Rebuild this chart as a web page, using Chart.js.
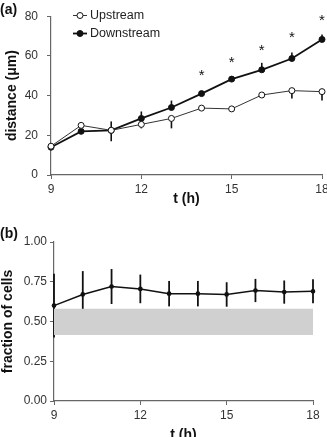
<!DOCTYPE html>
<html>
<head>
<meta charset="utf-8">
<script src="https://cdn.jsdelivr.net/npm/chart.js@4.4.0/dist/chart.umd.min.js"></script>
<style>
body{margin:0;background:#fff;width:327px;height:437px;overflow:hidden;position:relative;font-family:"Liberation Sans",Arial,sans-serif}
#wa{position:absolute;left:0;top:0;width:327px;height:210px}
#wb{position:absolute;left:0;top:210px;width:327px;height:227px;overflow:hidden}
.lab{position:absolute;font-weight:bold;font-size:14px;color:#111}
</style>
</head>
<body>
<div id="wa"><canvas id="chart-a" width="327" height="210"></canvas></div>
<div id="wb"><canvas id="chart-b" width="327" height="236"></canvas></div>
<div class="lab" style="left:0;top:1px">(a)</div>
<div class="lab" style="left:0;top:225px">(b)</div>
<script>
var hours = [9, 10, 11, 12, 13, 14, 15, 16, 17, 18];
var upstream = [14.5, 25, 22.5, 25.5, 28.5, 33.7, 33.3, 40.3, 42.5, 42];
var upstreamErr = [1, 1, 5.5, 2, 5, 1, 1.5, 1, 4, 4.5];
var downstream = [14, 22, 22.5, 28.5, 34, 41, 48.3, 53, 58.7, 68.3];
var downstreamErr = [1, 1, 4.5, 3.5, 3.5, 1, 1, 3.5, 3, 2.5];
var starHours = [14, 15, 16, 17, 18];
var starLevel = [52, 58.5, 64.7, 71, 79.5];
var fraction = [0.60, 0.67, 0.72, 0.705, 0.675, 0.675, 0.67, 0.695, 0.685, 0.69];
var fractionErr = [0.2, 0.147, 0.11, 0.09, 0.08, 0.08, 0.077, 0.073, 0.073, 0.075];
var bandHours = [9, 18];
var bandLow = [0.415, 0.415];
var bandHigh = [0.58, 0.58];

function pts(xs, ys) {
    return xs.map(function(x, i) { return {x: x, y: ys[i]}; });
}

// vertical error bars, drawn under the markers
var errorBarPlugin = {
    id: 'errorBars',
    beforeDatasetsDraw: function(chart, args, opts) {
        var ctx = chart.ctx, xs = chart.scales.x, ys = chart.scales.y;
        ctx.save();
        ctx.strokeStyle = '#111';
        ctx.lineWidth = opts.width;
        opts.bars.forEach(function(b) {
            b.values.forEach(function(v, i) {
                var px = xs.getPixelForValue(hours[i]);
                ctx.beginPath();
                ctx.moveTo(px, ys.getPixelForValue(v - (b.down ? b.err[i] : 0)));
                ctx.lineTo(px, ys.getPixelForValue(v + (b.up ? b.err[i] : 0)));
                ctx.stroke();
            });
        });
        ctx.restore();
    }
};

// asterisks and the little legend in panel (a)
var extrasPlugin = {
    id: 'extras',
    afterDraw: function(chart) {
        var ctx = chart.ctx, xs = chart.scales.x, ys = chart.scales.y;
        ctx.save();
        ctx.fillStyle = '#111';
        ctx.font = '15px "Liberation Sans", Arial, sans-serif';
        ctx.textAlign = 'center';
        ctx.textBaseline = 'alphabetic';
        starHours.forEach(function(h, i) {
            ctx.fillText('*', xs.getPixelForValue(h), ys.getPixelForValue(starLevel[i]) + 8);
        });
        var items = chart.data.datasets;
        ctx.font = '12.5px "Liberation Sans", Arial, sans-serif';
        ctx.textAlign = 'left';
        ctx.textBaseline = 'middle';
        [15.5, 33.5].forEach(function(y, i) {
            var d = items[i];
            ctx.strokeStyle = d.borderColor;
            ctx.lineWidth = d.borderWidth;
            ctx.beginPath();
            ctx.moveTo(73, y);
            ctx.lineTo(87, y);
            ctx.stroke();
            ctx.beginPath();
            ctx.arc(80, y, 3, 0, Math.PI * 2);
            ctx.fillStyle = d.pointBackgroundColor;
            ctx.fill();
            ctx.lineWidth = 1;
            ctx.strokeStyle = '#111';
            ctx.stroke();
            ctx.fillStyle = '#222';
            ctx.fillText(d.label, 90, y + 0.5);
        });
        ctx.restore();
    }
};

var tickFont = {family: '"Liberation Sans", Arial, sans-serif', size: 12};
var titleFont = {family: '"Liberation Sans", Arial, sans-serif', size: 14, weight: 'bold'};

var configA = {
    type: 'line',
    data: {
        datasets: [{
            label: 'Upstream',
            data: pts(hours, upstream),
            borderColor: '#333',
            borderWidth: 1,
            pointRadius: 3,
            pointBackgroundColor: '#fff',
            pointBorderColor: '#111',
            pointBorderWidth: 1,
            clip: false
        }, {
            label: 'Downstream',
            data: pts(hours, downstream),
            borderColor: '#111',
            borderWidth: 1.8,
            pointRadius: 3,
            pointBackgroundColor: '#111',
            pointBorderColor: '#111',
            pointBorderWidth: 1,
            clip: false
        }]
    },
    options: {
        responsive: false,
        animation: false,
        layout: {padding: {top: 15, right: 4, left: 0, bottom: 0}},
        plugins: {
            legend: {display: false},
            tooltip: {enabled: false},
            errorBars: {
                width: 1.6,
                bars: [
                    {values: upstream, err: upstreamErr, down: true},
                    {values: downstream, err: downstreamErr, up: true}
                ]
            }
        },
        scales: {
            x: {
                type: 'linear', min: 9, max: 18,
                ticks: {stepSize: 3, color: '#333', font: tickFont, padding: 3, maxRotation: 0},
                grid: {drawOnChartArea: false, tickLength: 4, color: '#666'},
                border: {color: '#666', width: 1.2},
                title: {display: true, text: 't (h)', font: titleFont, color: '#111', padding: {top: 0, bottom: 2}},
                afterFit: function(s) { s.height = 35; s.paddingRight = 0; s.paddingLeft = 0; }
            },
            y: {
                min: 0, max: 80,
                ticks: {stepSize: 20, color: '#333', font: tickFont, padding: 9},
                grid: {drawOnChartArea: false, tickLength: 4, color: '#666'},
                border: {color: '#666', width: 1.2},
                title: {display: true, text: 'distance (μm)', font: titleFont, color: '#111', padding: {top: 4, bottom: 0}},
                afterFit: function(s) { s.width = 51; }
            }
        }
    },
    plugins: [errorBarPlugin, extrasPlugin]
};

var configB = {
    type: 'line',
    data: {
        datasets: [{
            label: 'fraction',
            data: pts(hours, fraction),
            borderColor: '#111',
            borderWidth: 1.5,
            pointRadius: 1.6,
            pointBackgroundColor: '#111',
            pointBorderColor: '#111',
            clip: false
        }, {
            label: 'low',
            data: pts(bandHours, bandLow),
            borderWidth: 0,
            pointRadius: 0,
            fill: false
        }, {
            label: 'high',
            data: pts(bandHours, bandHigh),
            borderWidth: 0,
            pointRadius: 0,
            backgroundColor: '#d0d0d0',
            fill: '-1'
        }]
    },
    options: {
        responsive: false,
        animation: false,
        layout: {padding: {top: 32, right: 14, left: 0, bottom: 0}},
        plugins: {
            legend: {display: false},
            tooltip: {enabled: false},
            errorBars: {
                width: 1.8,
                bars: [{values: fraction, err: fractionErr, up: true, down: true}]
            }
        },
        scales: {
            x: {
                type: 'linear', min: 9, max: 18,
                ticks: {stepSize: 3, color: '#333', font: tickFont, padding: 3, maxRotation: 0},
                grid: {drawOnChartArea: false, tickLength: 4, color: '#666'},
                border: {color: '#666', width: 1.2},
                title: {display: true, text: 't (h)', font: titleFont, color: '#111', padding: {top: 0, bottom: 2}},
                afterFit: function(s) { s.height = 45; s.paddingRight = 0; s.paddingLeft = 0; }
            },
            y: {
                min: 0, max: 1,
                ticks: {
                    stepSize: 0.25, color: '#333', font: tickFont, padding: 3,
                    callback: function(v) { return v.toFixed(2); }
                },
                grid: {drawOnChartArea: false, tickLength: 4, color: '#666'},
                border: {color: '#666', width: 1.2},
                title: {display: true, text: 'fraction of cells', font: titleFont, color: '#111', padding: {top: 0, bottom: 0}},
                afterFit: function(s) { s.width = 54; }
            }
        }
    },
    plugins: [errorBarPlugin]
};

window.myChartA = new Chart(document.getElementById('chart-a').getContext('2d'), configA);
window.myChartB = new Chart(document.getElementById('chart-b').getContext('2d'), configB);
</script>
</body>
</html>
